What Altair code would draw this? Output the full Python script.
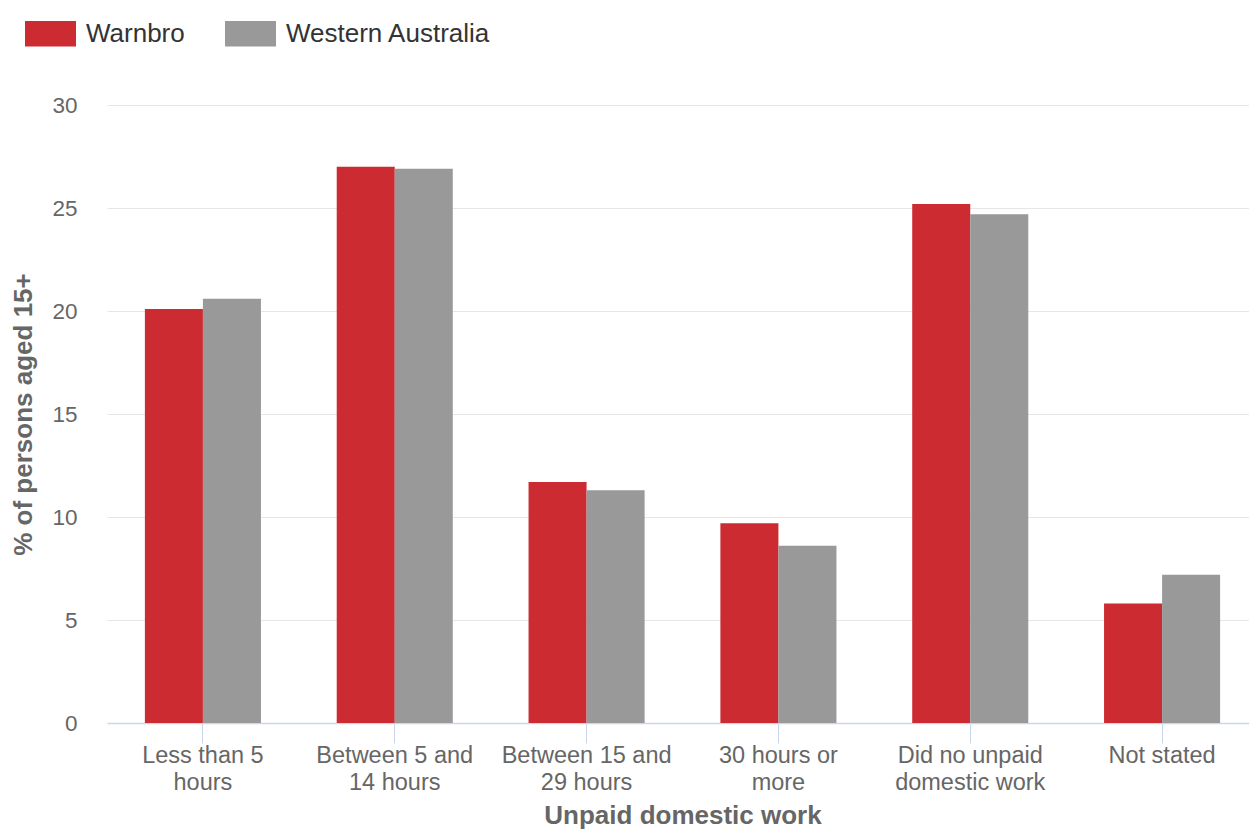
import altair as alt
import pandas as pd

categories = ["Less than 5 hours", "Between 5 and 14 hours", "Between 15 and 29 hours",
              "30 hours or more", "Did no unpaid domestic work", "Not stated"]
label_lines = [["Less than 5", "hours"], ["Between 5 and", "14 hours"], ["Between 15 and", "29 hours"],
               ["30 hours or", "more"], ["Did no unpaid", "domestic work"], ["Not stated"]]
series = ["Warnbro", "Western Australia"]
warnbro = [20.1, 27.0, 11.7, 9.7, 25.2, 5.8]
western_australia = [20.6, 26.9, 11.3, 8.6, 24.7, 7.2]
colors = ["#cc2b31", "#999999"]

rows = []
for c, w, wa in zip(categories, warnbro, western_australia):
    rows.append({"category": c, "series": series[0], "value": w})
    rows.append({"category": c, "series": series[1], "value": wa})
df = pd.DataFrame(rows)

label_expr = ""
for c, lines in zip(categories, label_lines):
    arr = "[" + ",".join("'" + l + "'" for l in lines) + "]"
    label_expr += f"datum.value == '{c}' ? {arr} : "
label_expr += "datum.value"

FONT = "Liberation Sans"
GREY = "#666666"

chart = alt.Chart(df).mark_bar().encode(
    x=alt.X("category:N", sort=categories, title="Unpaid domestic work",
            scale=alt.Scale(paddingInner=0.395, paddingOuter=0.1975),
            axis=alt.Axis(labelAngle=0, labelExpr=label_expr, labelFontSize=23.5, labelColor=GREY,
                          labelFont=FONT, labelLineHeight=27, labelPadding=0, labelLimit=300,
                          tickSize=20, tickColor="#ccd6eb", tickWidth=1,
                          domainColor="#ccd6eb", domainWidth=1.5,
                          titleFont=FONT, titleFontSize=26, titleColor=GREY, titleFontWeight="bold",
                          titlePadding=9, grid=False)),
    xOffset=alt.XOffset("series:N", sort=series, scale=alt.Scale(paddingInner=0, paddingOuter=0)),
    y=alt.Y("value:Q", title="% of persons aged 15+",
            scale=alt.Scale(domain=[0, 30], nice=False),
            axis=alt.Axis(values=[0, 5, 10, 15, 20, 25, 30], labelFontSize=22.5, labelColor=GREY,
                          labelFont=FONT, labelPadding=30, tickSize=0, domain=False,
                          gridColor="#e6e6e6", gridWidth=1,
                          titleFont=FONT, titleFontSize=26, titleColor=GREY, titleFontWeight="bold",
                          titlePadding=15)),
    color=alt.Color("series:N", sort=series, scale=alt.Scale(domain=series, range=colors),
                    legend=alt.Legend(title=None, orient="none", legendX=-82, legendY=-97,
                                      direction="horizontal",
                                      symbolType="M-1,-0.5h2v1h-2z", symbolSize=2601,
                                      symbolStrokeWidth=0, symbolOpacity=1,
                                      labelFont=FONT, labelFontSize=26, labelColor="#333333",
                                      labelOffset=10, columnPadding=40, labelLimit=400)),
).properties(
    width=1151, height=618,
    autosize=alt.AutoSizeParams(type="none"),
    padding={"left": 99, "top": 97, "right": -9, "bottom": 109},
).configure_view(stroke=None).configure_axis(labelFont=FONT, titleFont=FONT)

chart.save("out.html", embed_options={"renderer": "svg", "actions": False})
